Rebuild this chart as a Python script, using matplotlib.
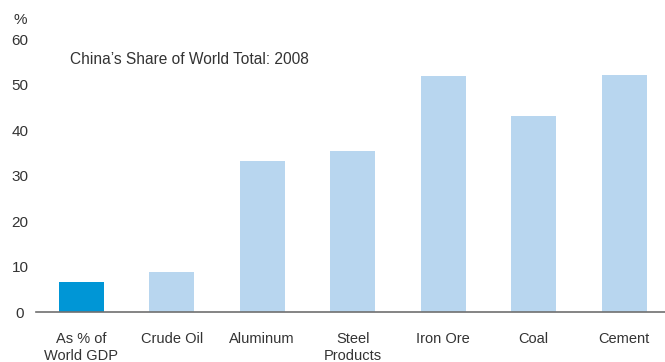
import matplotlib.pyplot as plt

# Data
categories = ['As % of\nWorld GDP', 'Crude Oil', 'Aluminum', 'Steel\nProducts',
              'Iron Ore', 'Coal', 'Cement']
shares = [6.7, 8.9, 33.3, 35.5, 52.0, 43.1, 52.2]
bar_colors = ['#0096d6'] + ['#b8d6ef'] * 6
y_ticks = [0, 10, 20, 30, 40, 50, 60]

plt.rcParams['font.family'] = ['Liberation Sans', 'DejaVu Sans']
text_color = '#333333'

fig = plt.figure(figsize=(6.65, 3.62), dpi=100)
ax = fig.add_axes([0.0541, 0.137, 0.9459, 0.7544])

x = range(len(categories))
ax.bar(x, shares, width=0.5, color=bar_colors)

ax.set_xlim(-0.5, 6.45)
ax.set_ylim(0, 60)
ax.set_yticks(y_ticks)
ax.set_yticklabels([str(t) for t in y_ticks], fontsize=11, color=text_color)
for lbl in ax.get_yticklabels():
    lbl.set_horizontalalignment('center')
ax.tick_params(axis='y', length=0, pad=11.5)

ax.set_xticks(list(x))
ax.set_xticklabels(categories, fontsize=10.5, color=text_color, linespacing=1.3)
ax.tick_params(axis='x', length=0, pad=14)

for side in ['top', 'right', 'left']:
    ax.spines[side].set_visible(False)
ax.spines['bottom'].set_color('#707070')
ax.spines['bottom'].set_linewidth(1.2)

fig.text(20 / 665, 1 - 20 / 362, '%', ha='center', va='center',
         fontsize=11, color=text_color)
fig.text(70 / 665, 1 - 60 / 362, 'China\u2019s Share of World Total: 2008',
         ha='left', va='center', fontsize=11.2, color=text_color)

fig.savefig('out.png', dpi=100)
